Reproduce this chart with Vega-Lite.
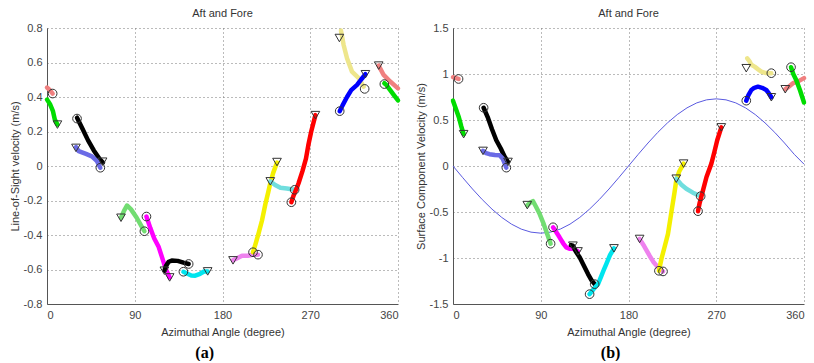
{
"$schema": "https://vega.github.io/schema/vega-lite/v6.json",
"padding": {"left": 9, "right": 0, "top": 8, "bottom": 0},
"background": "white",
"datasets": {
"tracks": [
{"p":"a","t":"t1","k":1,"x":340.2,"y":0.582},{"p":"a","t":"t1","k":1,"x":345,"y":0.53},{"p":"a","t":"t1","k":1,"x":352,"y":0.49},{"p":"a","t":"t1","k":1,"x":360,"y":0.45},
{"p":"a","t":"t1","k":2,"x":0,"y":0.455},{"p":"a","t":"t1","k":2,"x":3,"y":0.44},{"p":"a","t":"t1","k":2,"x":5.8,"y":0.42},
{"p":"a","t":"t2","k":1,"x":346,"y":0.48},{"p":"a","t":"t2","k":1,"x":348,"y":0.47},{"p":"a","t":"t2","k":1,"x":352,"y":0.44},{"p":"a","t":"t2","k":1,"x":356,"y":0.41},{"p":"a","t":"t2","k":1,"x":360,"y":0.38},
{"p":"a","t":"t2","k":2,"x":0,"y":0.385},{"p":"a","t":"t2","k":2,"x":3,"y":0.36},{"p":"a","t":"t2","k":2,"x":6,"y":0.32},{"p":"a","t":"t2","k":2,"x":8,"y":0.27},{"p":"a","t":"t2","k":2,"x":10.7,"y":0.24},
{"p":"a","t":"t3","k":1,"x":30.8,"y":0.28},{"p":"a","t":"t3","k":1,"x":36,"y":0.22},{"p":"a","t":"t3","k":1,"x":42,"y":0.15},{"p":"a","t":"t3","k":1,"x":48,"y":0.09},{"p":"a","t":"t3","k":1,"x":54,"y":0.04},{"p":"a","t":"t3","k":1,"x":57.4,"y":0.02},
{"p":"a","t":"t4","k":1,"x":29.7,"y":0.11},{"p":"a","t":"t4","k":1,"x":32.5,"y":0.086},{"p":"a","t":"t4","k":1,"x":40,"y":0.07},{"p":"a","t":"t4","k":1,"x":46,"y":0.056},{"p":"a","t":"t4","k":1,"x":51,"y":0.03},{"p":"a","t":"t4","k":1,"x":54.7,"y":-0.01},
{"p":"a","t":"t5","k":1,"x":75.9,"y":-0.3},{"p":"a","t":"t5","k":1,"x":79,"y":-0.26},{"p":"a","t":"t5","k":1,"x":82,"y":-0.229},{"p":"a","t":"t5","k":1,"x":86,"y":-0.25},{"p":"a","t":"t5","k":1,"x":92,"y":-0.3},{"p":"a","t":"t5","k":1,"x":97,"y":-0.35},{"p":"a","t":"t5","k":1,"x":99.9,"y":-0.378},
{"p":"a","t":"t6","k":1,"x":102,"y":-0.293},{"p":"a","t":"t6","k":1,"x":106,"y":-0.36},{"p":"a","t":"t6","k":1,"x":110,"y":-0.42},{"p":"a","t":"t6","k":1,"x":114.6,"y":-0.47},{"p":"a","t":"t6","k":1,"x":118,"y":-0.53},{"p":"a","t":"t6","k":1,"x":122,"y":-0.6},{"p":"a","t":"t6","k":1,"x":125.8,"y":-0.646},
{"p":"a","t":"t7","k":1,"x":120.4,"y":-0.607},{"p":"a","t":"t7","k":1,"x":122,"y":-0.58},{"p":"a","t":"t7","k":1,"x":124.8,"y":-0.555},{"p":"a","t":"t7","k":1,"x":128,"y":-0.548},{"p":"a","t":"t7","k":1,"x":134,"y":-0.55},{"p":"a","t":"t7","k":1,"x":140,"y":-0.56},{"p":"a","t":"t7","k":1,"x":145.3,"y":-0.568},
{"p":"a","t":"t8","k":1,"x":139.9,"y":-0.613},{"p":"a","t":"t8","k":1,"x":144,"y":-0.625},{"p":"a","t":"t8","k":1,"x":148,"y":-0.635},{"p":"a","t":"t8","k":1,"x":152,"y":-0.636},{"p":"a","t":"t8","k":1,"x":157,"y":-0.625},{"p":"a","t":"t8","k":1,"x":161,"y":-0.612},{"p":"a","t":"t8","k":1,"x":164.8,"y":-0.611},
{"p":"a","t":"t9","k":1,"x":190.8,"y":-0.547},{"p":"a","t":"t9","k":1,"x":195,"y":-0.535},{"p":"a","t":"t9","k":1,"x":200,"y":-0.52},{"p":"a","t":"t9","k":1,"x":206,"y":-0.52},{"p":"a","t":"t9","k":1,"x":211,"y":-0.515},{"p":"a","t":"t9","k":1,"x":216.4,"y":-0.514},
{"p":"a","t":"t10","k":1,"x":211.3,"y":-0.5},{"p":"a","t":"t10","k":1,"x":214,"y":-0.45},{"p":"a","t":"t10","k":1,"x":217,"y":-0.39},{"p":"a","t":"t10","k":1,"x":220.5,"y":-0.316},{"p":"a","t":"t10","k":1,"x":224,"y":-0.22},{"p":"a","t":"t10","k":1,"x":227,"y":-0.15},{"p":"a","t":"t10","k":1,"x":229,"y":-0.1},{"p":"a","t":"t10","k":1,"x":232,"y":-0.04},{"p":"a","t":"t10","k":1,"x":235.9,"y":0.02},
{"p":"a","t":"t11","k":1,"x":229,"y":-0.089},{"p":"a","t":"t11","k":1,"x":234,"y":-0.11},{"p":"a","t":"t11","k":1,"x":239.4,"y":-0.126},{"p":"a","t":"t11","k":1,"x":246,"y":-0.13},{"p":"a","t":"t11","k":1,"x":254,"y":-0.138},
{"p":"a","t":"t12","k":1,"x":250.6,"y":-0.21},{"p":"a","t":"t12","k":1,"x":253,"y":-0.17},{"p":"a","t":"t12","k":1,"x":256,"y":-0.13},{"p":"a","t":"t12","k":1,"x":258,"y":-0.1},{"p":"a","t":"t12","k":1,"x":262,"y":-0.03},{"p":"a","t":"t12","k":1,"x":265.6,"y":0.043},{"p":"a","t":"t12","k":1,"x":268,"y":0.12},{"p":"a","t":"t12","k":1,"x":271,"y":0.2},{"p":"a","t":"t12","k":1,"x":275.3,"y":0.295},
{"p":"a","t":"t13","k":1,"x":301.5,"y":0.785},{"p":"a","t":"t13","k":1,"x":304.3,"y":0.7},{"p":"a","t":"t13","k":1,"x":307.7,"y":0.625},{"p":"a","t":"t13","k":1,"x":312.8,"y":0.547},{"p":"a","t":"t13","k":1,"x":319.7,"y":0.509},{"p":"a","t":"t13","k":1,"x":324.8,"y":0.46},
{"p":"a","t":"t14","k":1,"x":300.2,"y":0.318},{"p":"a","t":"t14","k":1,"x":303,"y":0.35},{"p":"a","t":"t14","k":1,"x":307.7,"y":0.4},{"p":"a","t":"t14","k":1,"x":312,"y":0.44},{"p":"a","t":"t14","k":1,"x":318,"y":0.47},{"p":"a","t":"t14","k":1,"x":322,"y":0.5},{"p":"a","t":"t14","k":1,"x":326.6,"y":0.532},
{"p":"b","t":"t1","k":1,"x":340.8,"y":0.834},{"p":"b","t":"t1","k":1,"x":344,"y":0.86},{"p":"b","t":"t1","k":1,"x":348.7,"y":0.9},{"p":"b","t":"t1","k":1,"x":354,"y":0.92},{"p":"b","t":"t1","k":1,"x":360,"y":0.955},
{"p":"b","t":"t1","k":2,"x":0,"y":0.965},{"p":"b","t":"t1","k":2,"x":3,"y":0.955},{"p":"b","t":"t1","k":2,"x":5.7,"y":0.946},
{"p":"b","t":"t2","k":1,"x":346.7,"y":1.074},{"p":"b","t":"t2","k":1,"x":349,"y":1.0},{"p":"b","t":"t2","k":1,"x":352,"y":0.936},{"p":"b","t":"t2","k":1,"x":356,"y":0.82},{"p":"b","t":"t2","k":1,"x":360,"y":0.69},
{"p":"b","t":"t2","k":2,"x":0,"y":0.71},{"p":"b","t":"t2","k":2,"x":3,"y":0.62},{"p":"b","t":"t2","k":2,"x":6,"y":0.53},{"p":"b","t":"t2","k":2,"x":8.5,"y":0.43},{"p":"b","t":"t2","k":2,"x":10.9,"y":0.346},
{"p":"b","t":"t3","k":1,"x":31.4,"y":0.633},{"p":"b","t":"t3","k":1,"x":36,"y":0.52},{"p":"b","t":"t3","k":1,"x":40,"y":0.4},{"p":"b","t":"t3","k":1,"x":44.4,"y":0.28},{"p":"b","t":"t3","k":1,"x":49,"y":0.19},{"p":"b","t":"t3","k":1,"x":53,"y":0.1},{"p":"b","t":"t3","k":1,"x":56.4,"y":0.044},
{"p":"b","t":"t4","k":1,"x":30.8,"y":0.164},{"p":"b","t":"t4","k":1,"x":34,"y":0.14},{"p":"b","t":"t4","k":1,"x":37.5,"y":0.128},{"p":"b","t":"t4","k":1,"x":43,"y":0.12},{"p":"b","t":"t4","k":1,"x":47.8,"y":0.117},{"p":"b","t":"t4","k":1,"x":51,"y":0.08},{"p":"b","t":"t4","k":1,"x":54.7,"y":-0.018},
{"p":"b","t":"t5","k":1,"x":76.2,"y":-0.429},{"p":"b","t":"t5","k":1,"x":79,"y":-0.4},{"p":"b","t":"t5","k":1,"x":82,"y":-0.382},{"p":"b","t":"t5","k":1,"x":85,"y":-0.44},{"p":"b","t":"t5","k":1,"x":88.8,"y":-0.52},{"p":"b","t":"t5","k":1,"x":93,"y":-0.63},{"p":"b","t":"t5","k":1,"x":97,"y":-0.75},{"p":"b","t":"t5","k":1,"x":100.1,"y":-0.845},
{"p":"b","t":"t6","k":1,"x":102.6,"y":-0.666},{"p":"b","t":"t6","k":1,"x":106,"y":-0.72},{"p":"b","t":"t6","k":1,"x":109.3,"y":-0.775},{"p":"b","t":"t6","k":1,"x":113,"y":-0.84},{"p":"b","t":"t6","k":1,"x":116.2,"y":-0.884},{"p":"b","t":"t6","k":1,"x":120,"y":-0.9},{"p":"b","t":"t6","k":1,"x":123.1,"y":-0.9},{"p":"b","t":"t6","k":1,"x":128.2,"y":-0.928},
{"p":"b","t":"t7","k":1,"x":121,"y":-0.86},{"p":"b","t":"t7","k":1,"x":123,"y":-0.866},{"p":"b","t":"t7","k":1,"x":126,"y":-0.93},{"p":"b","t":"t7","k":1,"x":129.9,"y":-0.993},{"p":"b","t":"t7","k":1,"x":134,"y":-1.08},{"p":"b","t":"t7","k":1,"x":138.5,"y":-1.175},{"p":"b","t":"t7","k":1,"x":142,"y":-1.24},{"p":"b","t":"t7","k":1,"x":145.3,"y":-1.284},
{"p":"b","t":"t8","k":1,"x":140.1,"y":-1.393},{"p":"b","t":"t8","k":1,"x":144,"y":-1.34},{"p":"b","t":"t8","k":1,"x":148.7,"y":-1.284},{"p":"b","t":"t8","k":1,"x":152,"y":-1.2},{"p":"b","t":"t8","k":1,"x":155,"y":-1.12},{"p":"b","t":"t8","k":1,"x":157.2,"y":-1.066},{"p":"b","t":"t8","k":1,"x":161,"y":-0.97},{"p":"b","t":"t8","k":1,"x":165.1,"y":-0.895},
{"p":"b","t":"t9","k":1,"x":191.4,"y":-0.793},{"p":"b","t":"t9","k":1,"x":196,"y":-0.87},{"p":"b","t":"t9","k":1,"x":201.6,"y":-0.975},{"p":"b","t":"t9","k":1,"x":206,"y":-1.05},{"p":"b","t":"t9","k":1,"x":211,"y":-1.11},{"p":"b","t":"t9","k":1,"x":215.4,"y":-1.146},
{"p":"b","t":"t10","k":1,"x":211.2,"y":-1.139},{"p":"b","t":"t10","k":1,"x":214,"y":-1.0},{"p":"b","t":"t10","k":1,"x":217,"y":-0.88},{"p":"b","t":"t10","k":1,"x":220.5,"y":-0.738},{"p":"b","t":"t10","k":1,"x":224,"y":-0.5},{"p":"b","t":"t10","k":1,"x":227,"y":-0.3},{"p":"b","t":"t10","k":1,"x":229,"y":-0.156},{"p":"b","t":"t10","k":1,"x":232,"y":-0.06},{"p":"b","t":"t10","k":1,"x":236.5,"y":0.026},
{"p":"b","t":"t11","k":1,"x":229,"y":-0.138},{"p":"b","t":"t11","k":1,"x":234,"y":-0.2},{"p":"b","t":"t11","k":1,"x":239.3,"y":-0.247},{"p":"b","t":"t11","k":1,"x":246,"y":-0.29},{"p":"b","t":"t11","k":1,"x":254,"y":-0.328},
{"p":"b","t":"t12","k":1,"x":251.3,"y":-0.491},{"p":"b","t":"t12","k":1,"x":253,"y":-0.4},{"p":"b","t":"t12","k":1,"x":256.4,"y":-0.265},{"p":"b","t":"t12","k":1,"x":260,"y":-0.12},{"p":"b","t":"t12","k":1,"x":265,"y":0.026},{"p":"b","t":"t12","k":1,"x":268,"y":0.15},{"p":"b","t":"t12","k":1,"x":271,"y":0.28},{"p":"b","t":"t12","k":1,"x":275.2,"y":0.42},
{"p":"b","t":"t13","k":1,"x":301.8,"y":1.17},{"p":"b","t":"t13","k":1,"x":304,"y":1.14},{"p":"b","t":"t13","k":1,"x":306,"y":1.1},{"p":"b","t":"t13","k":1,"x":309.3,"y":1.08},{"p":"b","t":"t13","k":1,"x":313,"y":1.05},{"p":"b","t":"t13","k":1,"x":316.2,"y":1.026},{"p":"b","t":"t13","k":1,"x":321,"y":1.01},{"p":"b","t":"t13","k":1,"x":326.5,"y":1.009},
{"p":"b","t":"t14","k":1,"x":300.8,"y":0.71},{"p":"b","t":"t14","k":1,"x":303,"y":0.77},{"p":"b","t":"t14","k":1,"x":306,"y":0.826},{"p":"b","t":"t14","k":1,"x":309,"y":0.85},{"p":"b","t":"t14","k":1,"x":312.8,"y":0.862},{"p":"b","t":"t14","k":1,"x":317,"y":0.85},{"p":"b","t":"t14","k":1,"x":321.3,"y":0.826},{"p":"b","t":"t14","k":1,"x":324,"y":0.79},{"p":"b","t":"t14","k":1,"x":326.5,"y":0.747}
],
"marks": [
{"p":"a","m":"v","x":340.2,"y":0.582},{"p":"a","m":"o","x":5.8,"y":0.42},
{"p":"a","m":"o","x":346,"y":0.475},{"p":"a","m":"v","x":10.7,"y":0.24},
{"p":"a","m":"o","x":30.8,"y":0.275},{"p":"a","m":"v","x":57,"y":0.025},
{"p":"a","m":"v","x":29.7,"y":0.105},{"p":"a","m":"o","x":54.7,"y":-0.01},
{"p":"a","m":"v","x":75.9,"y":-0.3},{"p":"a","m":"o","x":99.9,"y":-0.378},
{"p":"a","m":"o","x":102,"y":-0.293},{"p":"a","m":"v","x":125.8,"y":-0.646},
{"p":"a","m":"v","x":120.4,"y":-0.607},{"p":"a","m":"o","x":145.3,"y":-0.568},
{"p":"a","m":"o","x":139.9,"y":-0.613},{"p":"a","m":"v","x":164.8,"y":-0.611},
{"p":"a","m":"v","x":190.8,"y":-0.547},{"p":"a","m":"o","x":216.4,"y":-0.514},
{"p":"a","m":"o","x":211.3,"y":-0.5},{"p":"a","m":"v","x":235.9,"y":0.023},
{"p":"a","m":"v","x":229,"y":-0.089},{"p":"a","m":"o","x":254,"y":-0.138},
{"p":"a","m":"o","x":250.6,"y":-0.21},{"p":"a","m":"v","x":275.3,"y":0.295},
{"p":"a","m":"v","x":299.9,"y":0.742},{"p":"a","m":"o","x":325.8,"y":0.447},
{"p":"a","m":"o","x":300.2,"y":0.318},{"p":"a","m":"v","x":326.6,"y":0.532},
{"p":"b","m":"v","x":340.8,"y":0.834},{"p":"b","m":"o","x":5.7,"y":0.946},
{"p":"b","m":"o","x":346.7,"y":1.074},{"p":"b","m":"v","x":10.9,"y":0.346},
{"p":"b","m":"o","x":31.4,"y":0.633},{"p":"b","m":"v","x":56.4,"y":0.044},
{"p":"b","m":"v","x":30.8,"y":0.164},{"p":"b","m":"o","x":54.7,"y":-0.018},
{"p":"b","m":"v","x":76.2,"y":-0.425},{"p":"b","m":"o","x":100.1,"y":-0.845},
{"p":"b","m":"o","x":102.6,"y":-0.666},{"p":"b","m":"v","x":128.2,"y":-0.928},
{"p":"b","m":"v","x":123,"y":-0.866},{"p":"b","m":"o","x":145.3,"y":-1.284},
{"p":"b","m":"o","x":140.1,"y":-1.393},{"p":"b","m":"v","x":165.1,"y":-0.895},
{"p":"b","m":"v","x":191.4,"y":-0.793},{"p":"b","m":"o","x":215.4,"y":-1.146},
{"p":"b","m":"o","x":211.2,"y":-1.139},{"p":"b","m":"v","x":236.5,"y":0.026},
{"p":"b","m":"v","x":229,"y":-0.138},{"p":"b","m":"o","x":254,"y":-0.328},
{"p":"b","m":"o","x":251.3,"y":-0.491},{"p":"b","m":"v","x":275.2,"y":0.42},
{"p":"b","m":"v","x":300.8,"y":1.063},{"p":"b","m":"o","x":326.5,"y":1.009},
{"p":"b","m":"o","x":300.8,"y":0.71},{"p":"b","m":"v","x":326.5,"y":0.747}
],
"sine": [
{"x":0,"y":0},{"x":10,"y":-0.127},{"x":20,"y":-0.25},{"x":30,"y":-0.365},{"x":40,"y":-0.469},{"x":50,"y":-0.559},{"x":60,"y":-0.632},{"x":70,"y":-0.686},{"x":80,"y":-0.719},{"x":90,"y":-0.73},
{"x":100,"y":-0.719},{"x":110,"y":-0.686},{"x":120,"y":-0.632},{"x":130,"y":-0.559},{"x":140,"y":-0.469},{"x":150,"y":-0.365},{"x":160,"y":-0.25},{"x":170,"y":-0.127},{"x":180,"y":0},
{"x":190,"y":0.127},{"x":200,"y":0.25},{"x":210,"y":0.365},{"x":220,"y":0.469},{"x":230,"y":0.559},{"x":240,"y":0.632},{"x":250,"y":0.686},{"x":260,"y":0.719},{"x":270,"y":0.73},
{"x":280,"y":0.719},{"x":290,"y":0.686},{"x":300,"y":0.632},{"x":310,"y":0.559},{"x":320,"y":0.469},{"x":330,"y":0.365},{"x":340,"y":0.25},{"x":350,"y":0.127},{"x":360,"y":0.02}
]
},
"hconcat": [
{
"title": {"text": "(a)", "orient": "bottom", "anchor": "middle", "font": "Liberation Serif", "fontSize": 16, "fontWeight": "bold", "color": "#000", "offset": 8},
"vconcat": [{
"width": 351, "height": 276,
"title": {"text": "Aft and Fore", "offset": 3},
"layer": [
{"data": {"name": "tracks"}, "transform": [{"filter": "datum.p == 'a'"}],
 "mark": {"type": "line", "strokeWidth": 4.5, "strokeCap": "round", "strokeJoin": "round"},
 "encoding": {
  "x": {"field": "x", "type": "quantitative", "scale": {"domain": [0, 360], "nice": false}, "axis": {"title": "Azimuthal Angle (degree)", "values": [0, 90, 180, 270, 360], "tickCount": 20}},
  "y": {"field": "y", "type": "quantitative", "scale": {"domain": [-0.8, 0.8], "nice": false}, "axis": {"title": "Line-of-Sight velocity (m/s)", "values": [-0.8, -0.6, -0.4, -0.2, 0, 0.2, 0.4, 0.6, 0.8], "tickCount": 20}},
  "color": {"field": "t", "type": "nominal", "legend": null, "scale": {"domain": ["t1","t2","t3","t4","t5","t6","t7","t8","t9","t10","t11","t12","t13","t14"], "range": ["#f08080","#00dd00","#000000","#6b6be6","#72dd72","#ff00ff","#000000","#00e5ee","#ee82ee","#f4f000","#70dede","#ff0000","#eee68c","#0000ff"]}},
  "detail": {"field": "k", "type": "nominal"}
 }},
{"data": {"name": "marks"}, "transform": [{"filter": "datum.p == 'a'"}],
 "mark": {"type": "point", "filled": false, "stroke": "#333", "strokeWidth": 1, "size": 75, "opacity": 1},
 "encoding": {
  "x": {"field": "x", "type": "quantitative"},
  "y": {"field": "y", "type": "quantitative"},
  "shape": {"field": "m", "type": "nominal", "legend": null, "scale": {"domain": ["o", "v"], "range": ["circle", "triangle-down"]}}
 }}
]
}]
},
{
"title": {"text": "(b)", "orient": "bottom", "anchor": "middle", "font": "Liberation Serif", "fontSize": 16, "fontWeight": "bold", "color": "#000", "offset": 8},
"vconcat": [{
"width": 351, "height": 276,
"title": {"text": "Aft and Fore", "offset": 3},
"layer": [
{"data": {"name": "sine"},
 "mark": {"type": "line", "strokeWidth": 1, "color": "#5a5ae0"},
 "encoding": {
  "x": {"field": "x", "type": "quantitative", "scale": {"domain": [0, 360], "nice": false}, "axis": {"title": "Azimuthal Angle (degree)", "values": [0, 90, 180, 270, 360], "tickCount": 20}},
  "y": {"field": "y", "type": "quantitative", "scale": {"domain": [-1.5, 1.5], "nice": false}, "axis": {"title": "Surface Component Velocity (m/s)", "values": [-1.5, -1, -0.5, 0, 0.5, 1, 1.5], "tickCount": 20}}
 }},
{"data": {"name": "tracks"}, "transform": [{"filter": "datum.p == 'b'"}],
 "mark": {"type": "line", "strokeWidth": 4.5, "strokeCap": "round", "strokeJoin": "round"},
 "encoding": {
  "x": {"field": "x", "type": "quantitative"},
  "y": {"field": "y", "type": "quantitative"},
  "color": {"field": "t", "type": "nominal", "legend": null, "scale": {"domain": ["t1","t2","t3","t4","t5","t6","t7","t8","t9","t10","t11","t12","t13","t14"], "range": ["#f08080","#00dd00","#000000","#6b6be6","#72dd72","#ff00ff","#000000","#00e5ee","#ee82ee","#f4f000","#70dede","#ff0000","#eee68c","#0000ff"]}},
  "detail": {"field": "k", "type": "nominal"}
 }},
{"data": {"name": "marks"}, "transform": [{"filter": "datum.p == 'b'"}],
 "mark": {"type": "point", "filled": false, "stroke": "#333", "strokeWidth": 1, "size": 75, "opacity": 1},
 "encoding": {
  "x": {"field": "x", "type": "quantitative"},
  "y": {"field": "y", "type": "quantitative"},
  "shape": {"field": "m", "type": "nominal", "legend": null, "scale": {"domain": ["o", "v"], "range": ["circle", "triangle-down"]}}
 }}
]
}]
}
],
"spacing": 14,
"config": {
 "view": {"stroke": null},
 "concat": {"spacing": 0},
 "title": {"font": "Liberation Sans", "fontSize": 11, "fontWeight": "normal", "color": "#333"},
 "axis": {
  "labelFont": "Liberation Sans", "labelFontSize": 11, "labelColor": "#444", "labelOverlap": false,
  "labelExpr": "replace(format(datum.value, '~g'), '\u2212', '-')",
  "titleFont": "Liberation Sans", "titleFontSize": 11, "titleFontWeight": "normal", "titleColor": "#333",
  "grid": true, "gridColor": "#777", "gridDash": [1, 3], "gridOpacity": 1, "gridWidth": 1,
  "domainColor": "#555", "ticks": false, "labelPadding": 5
 },
 "axisX": {"titlePadding": 6},
 "axisY": {"titlePadding": 3}
}
}
